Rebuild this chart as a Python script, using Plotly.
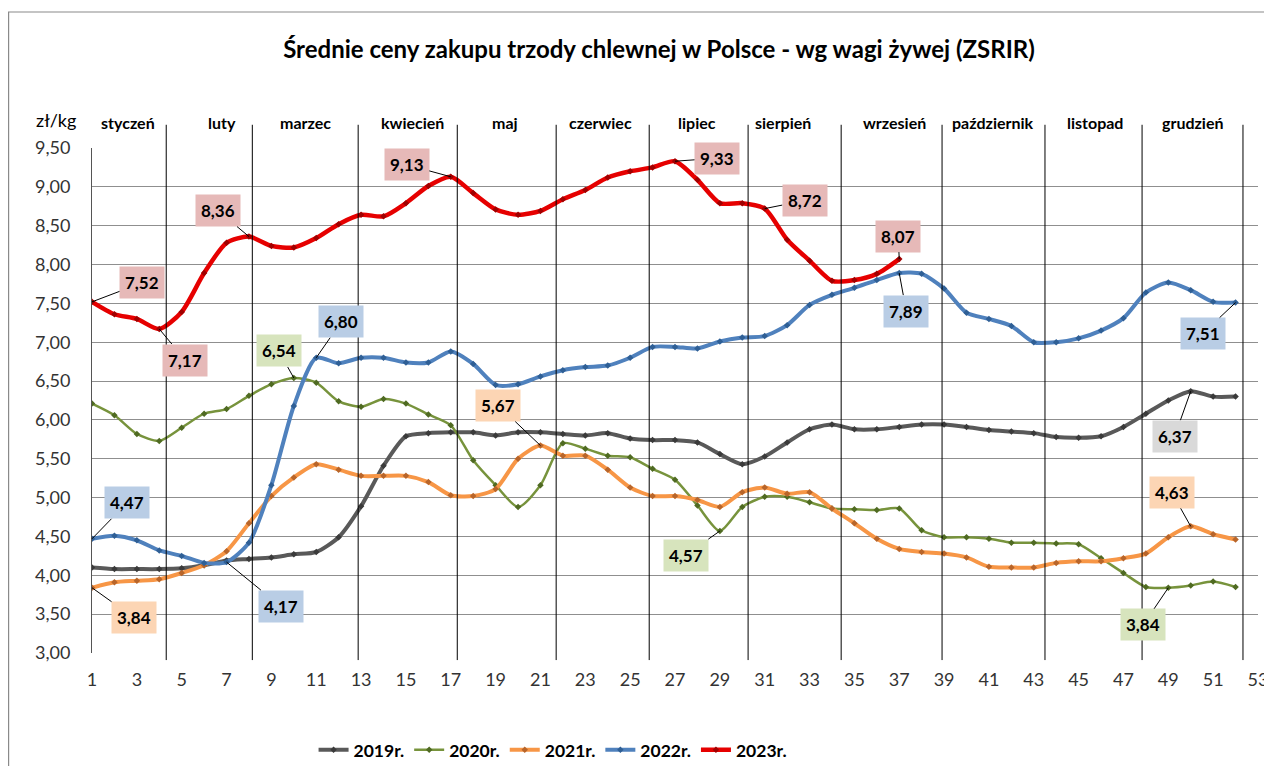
import plotly.graph_objects as go

weeks = list(range(1, 53))

y2019 = [4.10, 4.08, 4.08, 4.08, 4.09, 4.13, 4.19, 4.21, 4.23, 4.27, 4.30, 4.49, 4.89, 5.41, 5.79, 5.83,
         5.84, 5.84, 5.80, 5.84, 5.84, 5.82, 5.80, 5.83, 5.76, 5.74, 5.74, 5.71, 5.56, 5.43, 5.53, 5.71,
         5.88, 5.94, 5.88, 5.88, 5.91, 5.94, 5.94, 5.91, 5.87, 5.85, 5.83, 5.78, 5.77, 5.79, 5.91, 6.08,
         6.25, 6.37, 6.30, 6.30]
y2020 = [6.21, 6.06, 5.82, 5.73, 5.90, 6.08, 6.14, 6.31, 6.46, 6.54, 6.48, 6.24, 6.17, 6.27, 6.21, 6.07,
         5.93, 5.48, 5.16, 4.88, 5.16, 5.70, 5.63, 5.54, 5.52, 5.37, 5.23, 4.90, 4.57, 4.88, 5.01, 5.01,
         4.94, 4.86, 4.85, 4.84, 4.86, 4.58, 4.49, 4.49, 4.47, 4.42, 4.42, 4.41, 4.40, 4.22, 4.03, 3.85,
         3.84, 3.87, 3.92, 3.85]
y2021 = [3.84, 3.91, 3.93, 3.95, 4.03, 4.13, 4.31, 4.67, 5.02, 5.26, 5.43, 5.36, 5.28, 5.28, 5.28, 5.20,
         5.03, 5.02, 5.11, 5.50, 5.67, 5.54, 5.54, 5.36, 5.13, 5.02, 5.02, 4.97, 4.88, 5.07, 5.13, 5.05,
         5.07, 4.86, 4.67, 4.47, 4.34, 4.30, 4.28, 4.23, 4.11, 4.10, 4.10, 4.16, 4.18, 4.18, 4.22, 4.28,
         4.49, 4.63, 4.53, 4.46]
y2022 = [4.47, 4.51, 4.45, 4.32, 4.25, 4.16, 4.17, 4.42, 5.16, 6.18, 6.80, 6.73, 6.80, 6.80, 6.74, 6.74,
         6.88, 6.72, 6.45, 6.46, 6.56, 6.64, 6.68, 6.70, 6.80, 6.94, 6.94, 6.92, 7.01, 7.06, 7.08, 7.22,
         7.48, 7.61, 7.70, 7.80, 7.89, 7.88, 7.69, 7.38, 7.30, 7.21, 7.00, 7.00, 7.05, 7.15, 7.31, 7.64,
         7.77, 7.67, 7.52, 7.51]
y2023 = [7.52, 7.36, 7.30, 7.17, 7.39, 7.89, 8.28, 8.36, 8.24, 8.22, 8.34, 8.52, 8.64, 8.62, 8.79, 9.01,
         9.13, 8.92, 8.71, 8.64, 8.69, 8.84, 8.96, 9.12, 9.20, 9.25, 9.33, 9.09, 8.79, 8.79, 8.72, 8.32,
         8.05, 7.79, 7.80, 7.88, 8.07]

series_names = ["2019r.", "2020r.", "2021r.", "2022r.", "2023r."]
series_values = [y2019, y2020, y2021, y2022, y2023]

months = ["styczeń", "luty", "marzec", "kwiecień", "maj", "czerwiec", "lipiec",
          "sierpień", "wrzesień", "październik", "listopad", "grudzień"]

title_text = "Średnie ceny zakupu trzody chlewnej w Polsce - wg wagi żywej (ZSRIR)"
unit_text = "zł/kg"

# ---- styling / layout (not data) ----
line_colors = ["#595959", "#77933C", "#F79646", "#4F81BD", "#E60000"]
marker_colors = ["#3a3a3a", "#4f6a22", "#b8652a", "#2f5f95", "#a00000"]
line_widths = [4, 2.5, 4, 4, 4.5]
label_bg = ["#D9D9D9", "#D7E4BD", "#FCD5B4", "#B9CDE5", "#E6B9B8"]

month_sep = [4.31, 8.15, 12.87, 17.29, 21.7, 25.85, 30.26, 34.41, 38.91, 43.5, 47.83, 52.33]
month_lab_x = [2.62, 6.81, 10.51, 15.28, 19.42, 23.66, 27.98, 31.82, 36.8, 41.18, 45.73, 50.1]

# (series index, week, ax, ay)
labels = [
    (4, 1, 50, -19), (4, 4, 26, 31), (4, 8, -31, -26), (4, 17, -44, -12),
    (4, 27, 42, -3), (4, 31, 40, -8), (4, 37, -1, -23),
    (3, 1, 35, -36), (3, 7, 54, 44), (3, 11, 25, -36), (3, 37, 7, 38), (3, 52, -33, 31),
    (1, 10, -15, -27), (1, 29, -34, 24), (1, 49, -25, 37),
    (2, 1, 42, 30), (2, 21, -42, -40), (2, 50, -19, -34),
    (0, 50, -16, 45),
]

FONT = "Lato, 'Open Sans', sans-serif"
W, H = 1264, 758
L, T = 84, 140
PW, PH = 1166, 505

fig = go.Figure()
for i, (name, vals) in enumerate(zip(series_names, series_values)):
    fig.add_trace(go.Scatter(
        x=weeks[:len(vals)], y=vals, name=f"<b>{name}</b>", mode="lines+markers",
        line=dict(color=line_colors[i], width=line_widths[i], shape="spline", smoothing=0.7),
        marker=dict(symbol="diamond", size=5, color=marker_colors[i]),
    ))

shapes = []
for s in month_sep:
    shapes.append(dict(type="line", xref="x", yref="paper", x0=s, x1=s, y0=-0.014, y1=1.046,
                       line=dict(color="#000000", width=1), layer="above"))
# outer chart border
shapes.append(dict(type="rect", xref="paper", yref="paper",
                   x0=(0.6 - L) / PW, x1=1.2, y0=-0.5, y1=(T + PH - 4) / PH,
                   line=dict(color="#8a8a8a", width=1.2), layer="below"))

annotations = []
for m, mx in zip(months, month_lab_x):
    annotations.append(dict(x=mx, y=1.027, xref="x", yref="paper", text=f"<b>{m}</b>",
                            showarrow=False, yanchor="bottom", xanchor="center",
                            font=dict(family=FONT, size=16, color="#000")))
annotations.append(dict(x=-0.031, y=1.03, xref="paper", yref="paper", text=unit_text,
                        showarrow=False, yanchor="bottom", xanchor="center",
                        font=dict(family=FONT, size=18, color="#000")))
for si, wk, ax, ay in labels:
    v = series_values[si][wk - 1]
    annotations.append(dict(
        x=wk, y=v, xref="x", yref="y", text="<b>" + f"{v:.2f}".replace(".", ",") + "</b>",
        showarrow=True, arrowhead=0, arrowwidth=1, arrowcolor="#000", ax=ax, ay=ay,
        bgcolor=label_bg[si], borderpad=5, standoff=0,
        font=dict(family=FONT, size=17, color="#000")))

fig.update_layout(
    width=W, height=H,
    margin=dict(l=L, r=W - L - PW, t=T, b=H - T - PH, autoexpand=False),
    paper_bgcolor="white", plot_bgcolor="white",
    separators=", ",
    title=dict(text=f"<b>{title_text}</b>", x=(L + 567) / W, xanchor="center",
               y=1 - 42 / H, yanchor="middle",
               font=dict(family=FONT, size=24, color="#000")),
    xaxis=dict(range=[1, 53], tick0=1, dtick=2, showgrid=False, zeroline=False,
               showline=False, ticks="outside", ticklen=10, tickcolor="rgba(0,0,0,0)",
               tickfont=dict(family=FONT, size=18, color="#333")),
    yaxis=dict(range=[3, 9.5], dtick=0.5, tickformat=".2f", showgrid=True,
               gridcolor="#8f8f8f", gridwidth=1, zeroline=False,
               showline=True, linecolor="#555", linewidth=1,
               ticks="outside", ticklen=17, tickcolor="rgba(0,0,0,0)",
               tickfont=dict(family=FONT, size=18, color="#333")),
    legend=dict(orientation="h", x=0.395, xanchor="center", y=-0.192, yanchor="middle",
                font=dict(family=FONT, size=17.5, color="#000"), itemwidth=30,
                tracegroupgap=0, bgcolor="rgba(0,0,0,0)"),
    shapes=shapes, annotations=annotations,
    font=dict(family=FONT),
)

fig.write_html("out.html")
